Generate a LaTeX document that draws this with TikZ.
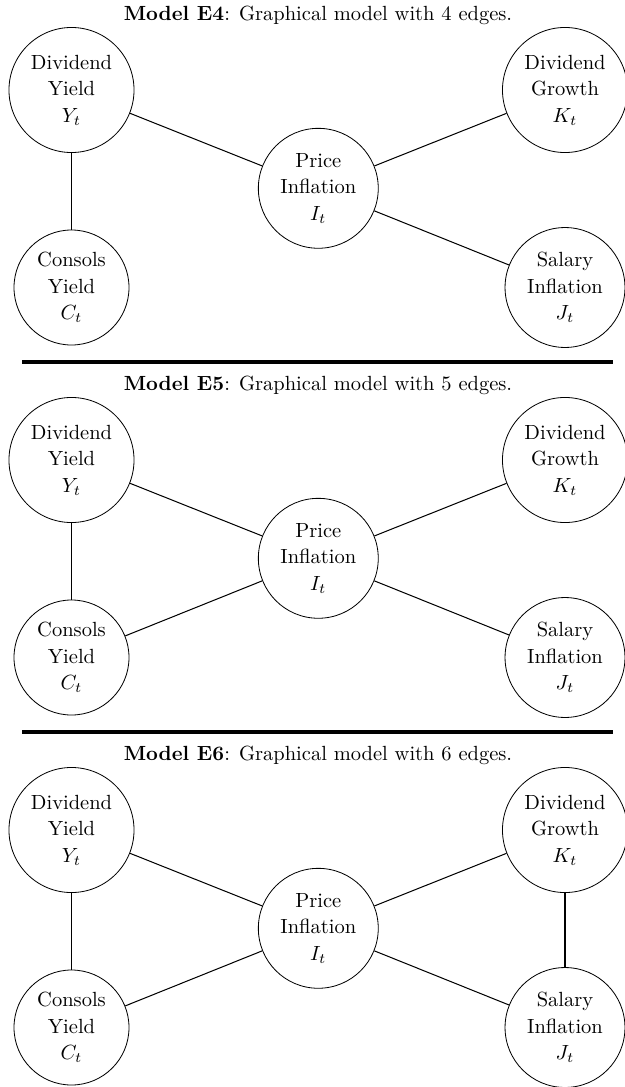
\documentclass[tikz,border=0pt]{standalone}
\begin{document}
\begin{tikzpicture}[x=0.4878pt,y=-0.4878pt,
  var/.style={draw,circle,inner sep=0pt,align=center,font={\fontsize{10}{12.9}\selectfont}},
  big/.style={var,minimum size=61pt},
  mid/.style={var,minimum size=58.5pt},
  small/.style={var,minimum size=56.1pt},
  edge/.style={draw,line width=0.5pt},
  rule/.style={line width=1.5pt},
  title/.style={inner sep=0pt}]
\useasboundingbox (0,0) rectangle (625,1087);
\foreach \p/\n in {1/4,2/5,3/6}{
  \begin{scope}[shift={(0,{370*(\p-1)})}]
    \node[title] (title\p) at (318,15) {\textbf{Model E\n}: Graphical model with \n\ edges.};
    \node[big] (dy\p) at (71.5,90) {Dividend\\Yield\\$Y_t$};
    \node[big] (dg\p) at (565,90) {Dividend\\Growth\\$K_t$};
    \node[mid] (pi\p) at (318.3,188.3) {Price\\Inflation\\$I_t$};
    \node[small] (cy\p) at (71.5,287.5) {Consols\\Yield\\$C_t$};
    \node[mid] (si\p) at (565,287.5) {Salary\\Inflation\\$J_t$};
    \draw[edge] (dy\p) -- (cy\p);
    \draw[edge] (dy\p) -- (pi\p);
    \draw[edge] (pi\p) -- (dg\p);
    \draw[edge] (pi\p) -- (si\p);
  \end{scope}
}
\draw[edge] (cy2) -- (pi2);
\draw[edge] (cy3) -- (pi3);
\draw[edge] (dg3) -- (si3);
\coordinate (r1a) at (22,362);
\coordinate (r1b) at (613,362);
\coordinate (r2a) at (22,732);
\coordinate (r2b) at (613,732);
\draw[rule] (r1a) -- (r1b);
\draw[rule] (r2a) -- (r2b);
\end{tikzpicture}
\end{document}
